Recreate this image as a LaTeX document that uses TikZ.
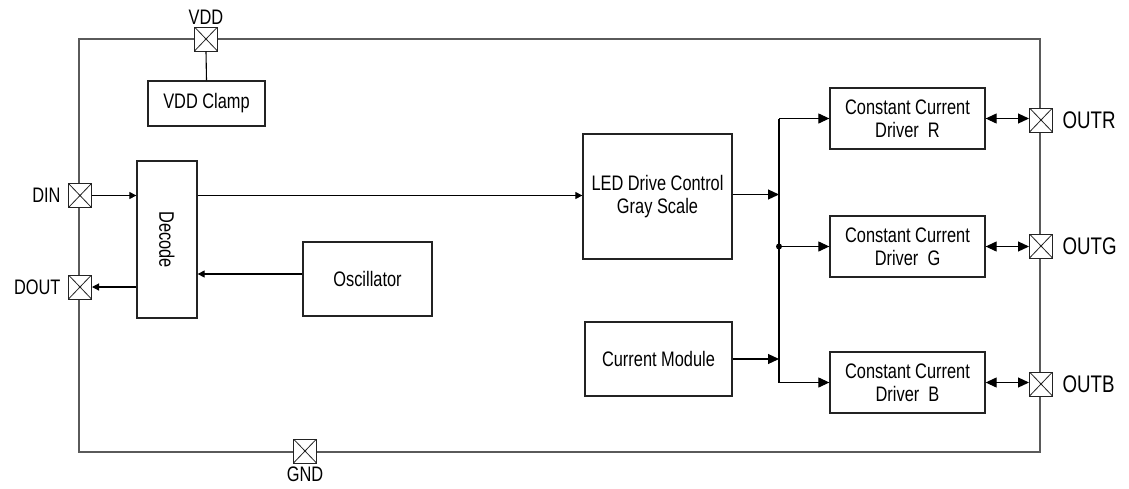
\documentclass[tikz,border=0pt]{standalone}
\usepackage{fontspec}
\setmainfont{Liberation Sans}[FakeStretch=0.78]
\usepackage{tikz}
\usetikzlibrary{arrows.meta, positioning, calc}
\definecolor{framegray}{RGB}{90,90,90}
\definecolor{boxgray}{RGB}{35,35,35}

\begin{document}
\begin{tikzpicture}[
    x=1pt, y=-1pt,
    >={Triangle[length=11pt, width=10pt]},
    every node/.style={font=\fontsize{21}{23}\selectfont},
    block/.style={draw=boxgray, line width=1.3pt, align=center, inner sep=0pt},
    pad/.style={draw=boxgray, fill=white, line width=1pt, minimum width=23pt,
        minimum height=24pt, inner sep=0pt,
        path picture={\draw[line width=0.8pt]
            (path picture bounding box.south west) -- (path picture bounding box.north east)
            (path picture bounding box.north west) -- (path picture bounding box.south east);}},
    wire/.style={line width=1.1pt},
    smalltip/.style={-{Triangle[length=7pt, width=7pt]}},
]
    \useasboundingbox (0,0) rectangle (1129,488);

    % Chip outline
    \draw[framegray, line width=1.5pt] (79,39) rectangle (1040,452);

    % Pads on the outline
    \node[pad] (vdd)  at (206,39)   {};
    \node[pad] (din)  at (80,195.5) {};
    \node[pad] (dout) at (80,287)   {};
    \node[pad] (gnd)  at (305,451)  {};
    \node[pad] (outr) at (1041,120) {};
    \node[pad] (outg) at (1041,246) {};
    \node[pad] (outb) at (1041,384) {};

    % Pad names
    \node[above=-2pt of vdd] (vddlbl) {VDD};
    \node[below=0pt of gnd] (gndlbl) {GND};
    \node[left=4pt of din] (dinlbl) {DIN};
    \node[left=4pt of dout] (doutlbl) {DOUT};
    \node[right=6pt of outr, font=\fontsize{24}{26}\selectfont] (outrlbl) {OUTR};
    \node[right=6pt of outg, font=\fontsize{24}{26}\selectfont] (outglbl) {OUTG};
    \node[right=6pt of outb, font=\fontsize{24}{26}\selectfont] (outblbl) {OUTB};

    % Blocks
    \node[block, minimum width=117pt, minimum height=45pt] (clamp) at (206.5,103.5) {VDD Clamp};
    \node[block, minimum width=60pt, minimum height=157pt] (decode) at (167,239.5) {};
    \node[rotate=-90] (decodelbl) at (decode.center) {Decode};
    \node[block, minimum width=129pt, minimum height=74pt] (osc) at (367.5,279) {Oscillator};
    \node[block, minimum width=149pt, minimum height=125pt] (led) at (657.5,196.5) {LED Drive Control\\Gray Scale};
    \node[block, minimum width=147pt, minimum height=74pt] (cur) at (658.5,359) {Current Module};
    \node[block, minimum width=155pt, minimum height=61pt] (drvR) at (907.5,118.5) {Constant Current\\Driver\ \ R};
    \node[block, minimum width=155pt, minimum height=61pt] (drvG) at (907.5,246.5) {Constant Current\\Driver\ \ G};
    \node[block, minimum width=155pt, minimum height=61pt] (drvB) at (907.5,382.5) {Constant Current\\Driver\ \ B};

    % Bus feeding the drivers
    \coordinate (btop) at (779,118.5);
    \coordinate (bdot) at (779,246.5);
    \coordinate (bbot) at (779,382.5);
    \draw[wire] (btop) -- (bbot);
    \fill (bdot) circle (3);

    % Connections
    \draw[wire] (vdd.south) -- (clamp.north);
    \draw[wire, smalltip] (din.east) -- (din.east -| decode.west);
    \draw[wire, smalltip] (decode.west |- dout) -- (dout.east);
    \draw[wire, smalltip] ([yshift=5pt]osc.west) -- ([yshift=5pt]osc.west -| decode.east);
    \draw[wire, smalltip] (decode.east |- din) -- (din -| led.west);
    \draw[wire, ->] ([yshift=2pt]led.east) -- ([yshift=2pt]led.east -| btop);
    \draw[wire, ->] (cur.east) -- (cur.east -| btop);
    \draw[wire, ->] (btop) -- (drvR.west);
    \draw[wire, ->] (bdot) -- (drvG.west);
    \draw[wire, ->] (bbot) -- (drvB.west);

    % Driver outputs
    \draw[wire, <->] (drvR.east) -- (drvR.east -| outr.west);
    \draw[wire, <->] (drvG.east) -- (drvG.east -| outg.west);
    \draw[wire, <->] (drvB.east) -- (drvB.east -| outb.west);
\end{tikzpicture}
\end{document}
